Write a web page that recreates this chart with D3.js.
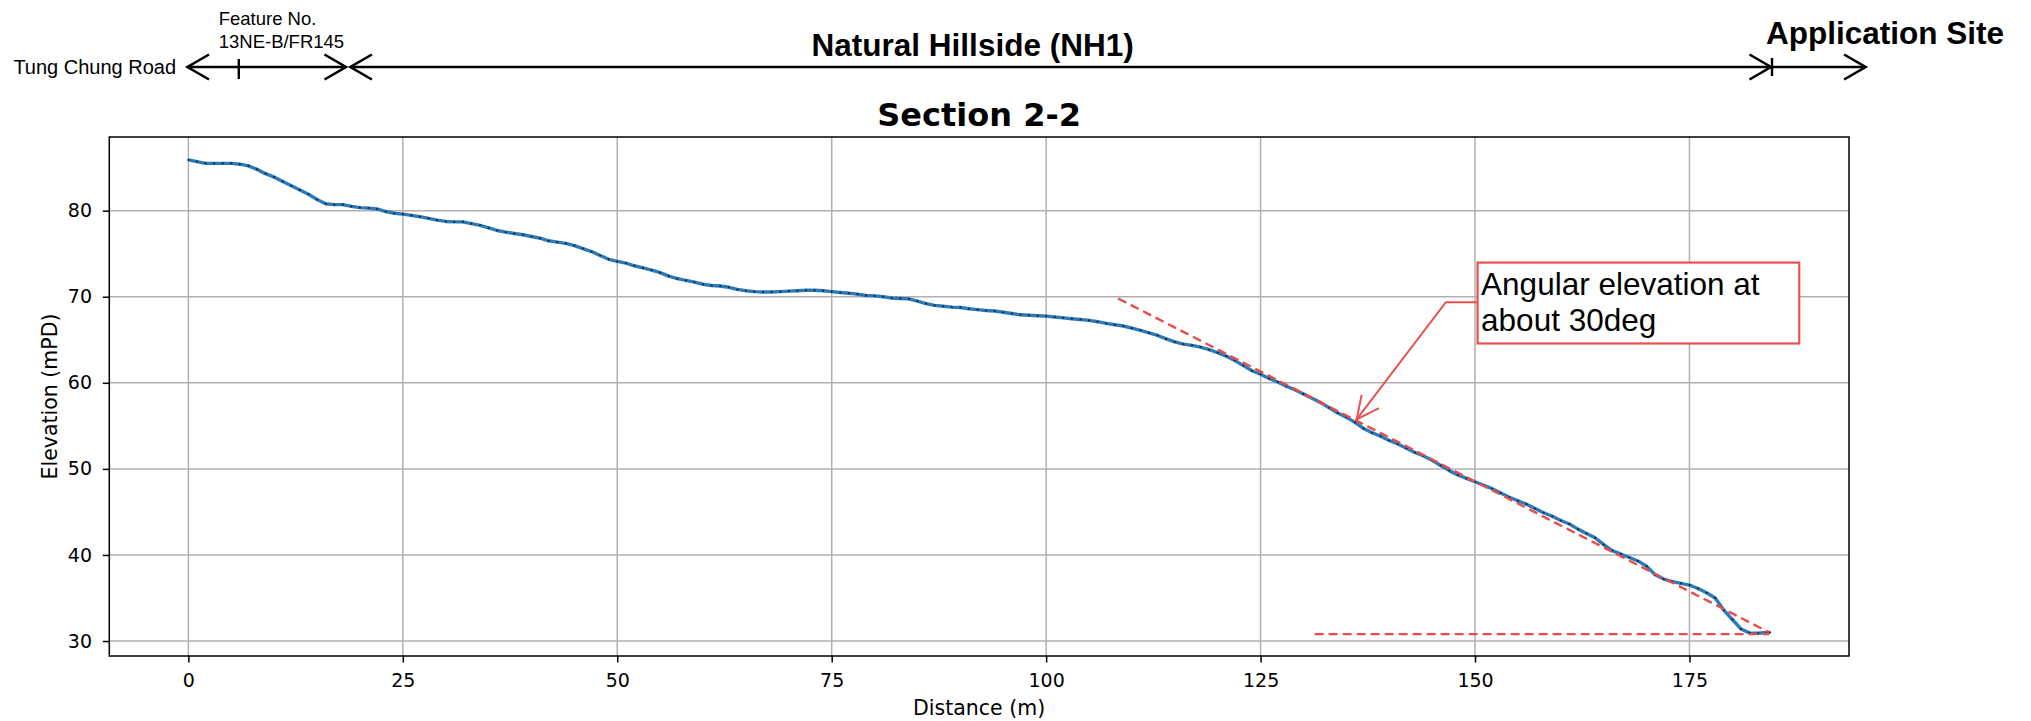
<!DOCTYPE html>
<html>
  <head>
    <title>Section 2-2</title>
    <script src="https://cdn.jsdelivr.net/npm/d3@7"></script>
    <style>
      body { margin: 0; background: #fff; }
      .chart text { font-family: 'DejaVu Sans', sans-serif; fill: #000; }
      .hdr text { font-family: 'Liberation Sans', Arial, sans-serif; fill: #000; }
    </style>
  </head>
  <body>
    <svg width="2031" height="721" id="mainsvg"></svg>
    <script>
      // profile data: distance (m) vs elevation (mPD)
      const distance = [
        0,1,2,3,4,5,6,7,8,9,10,11,12,13,14,15,16,17,18,19,
        20,21,22,23,24,25,26,27,28,29,30,31,32,33,34,35,36,37,38,39,
        40,41,42,43,44,45,46,47,48,49,50,51,52,53,54,55,56,57,58,59,
        60,61,62,63,64,65,66,67,68,69,70,71,72,73,74,75,76,77,78,79,
        80,81,82,83,84,85,86,87,88,89,90,91,92,93,94,95,96,97,98,99,
        100,101,102,103,104,105,106,107,108,109,110,111,112,113,114,115,116,117,118,119,
        120,121,122,123,124,125,126,127,128,129,130,131,132,133,134,135,136,137,138,139,
        140,141,142,143,144,145,146,147,148,149,150,151,152,153,154,155,156,157,158,159,
        160,161,162,163,164,165,166,167,168,169,170,171,172,173,174,175,176,177,178,179,
        180,181,182,183,184,184.4
      ];
      const elevation = [
        85.9,85.7,85.5,85.5,85.5,85.5,85.4,85.2,84.8,84.3,
        83.9,83.4,82.9,82.4,81.9,81.3,80.8,80.7,80.7,80.5,
        80.35,80.3,80.2,79.9,79.7,79.6,79.45,79.3,79.1,78.9,
        78.75,78.7,78.7,78.5,78.3,78.0,77.7,77.5,77.35,77.2,
        77.0,76.8,76.5,76.35,76.2,75.95,75.6,75.25,74.8,74.35,
        74.1,73.9,73.6,73.35,73.1,72.8,72.4,72.1,71.9,71.7,
        71.45,71.3,71.25,71.1,70.85,70.7,70.6,70.55,70.55,70.6,
        70.65,70.7,70.75,70.75,70.7,70.6,70.5,70.4,70.3,70.15,
        70.1,70.0,69.85,69.8,69.75,69.5,69.2,69.0,68.9,68.8,
        68.75,68.6,68.5,68.4,68.35,68.2,68.05,67.9,67.85,67.8,
        67.75,67.65,67.55,67.45,67.35,67.25,67.1,66.9,66.75,66.6,
        66.35,66.1,65.8,65.5,65.1,64.75,64.5,64.35,64.15,63.85,
        63.5,63.1,62.6,62.0,61.4,61.0,60.5,60.1,59.6,59.2,
        58.7,58.2,57.7,57.1,56.5,56.0,55.4,54.7,54.2,53.8,
        53.3,52.9,52.4,51.9,51.5,51.0,50.4,49.8,49.3,48.9,
        48.5,48.1,47.7,47.2,46.7,46.3,45.9,45.4,44.9,44.5,
        44.0,43.6,43.0,42.5,42.0,41.2,40.5,40.1,39.7,39.3,
        38.7,37.7,37.2,36.9,36.7,36.5,36.1,35.6,35.0,33.6,
        32.5,31.4,30.95,30.9,31.0,31.0
      ];
      const xTicks = [0, 25, 50, 75, 100, 125, 150, 175];
      const yTicks = [30, 40, 50, 60, 70, 80];

      // red dashed guide lines (slope ~30deg and base level)
      const slopeLine = [[108.4, 69.8], [184.3, 31.0]];
      const baseLine = [[131.3, 30.8], [184.3, 30.8]];
      // callout: box corners, elbow and arrow tip in data units
      const callout = {x0: 150.3, x1: 187.8, y0: 73.97, y1: 64.57, elbow: [146.6, 69.36], tip: [136.2, 55.75]};
      const calloutText = ['Angular elevation at', 'about 30deg'];

      const svg = d3.select('#mainsvg');
      const width = +svg.attr('width');
      const height = +svg.attr('height');
      const margin = {top: 137, right: 182, bottom: 65, left: 109.3};
      const innerWidth = width - margin.left - margin.right;
      const innerHeight = height - margin.top - margin.bottom;

      const xScale = d3.scaleLinear().domain([-9.22, 193.6]).range([0, innerWidth]);
      const yScale = d3.scaleLinear().domain([28.26, 88.56]).range([innerHeight, 0]);

      const g = svg.append('g').attr('class', 'chart')
        .attr('transform', `translate(${margin.left}, ${margin.top})`);

      // grid
      g.append('g').selectAll('line').data(xTicks).join('line')
        .attr('x1', d => xScale(d)).attr('x2', d => xScale(d))
        .attr('y1', 0).attr('y2', innerHeight)
        .attr('stroke', '#b0b0b0').attr('stroke-width', 1.5);
      g.append('g').selectAll('line').data(yTicks).join('line')
        .attr('y1', d => yScale(d)).attr('y2', d => yScale(d))
        .attr('x1', 0).attr('x2', innerWidth)
        .attr('stroke', '#b0b0b0').attr('stroke-width', 1.5);

      // axes
      const xAxis = d3.axisBottom(xScale).tickValues(xTicks).tickSize(6.5).tickSizeOuter(0);
      const xAxisGroup = g.append('g').call(xAxis)
        .attr('transform', `translate(0, ${innerHeight})`);
      xAxisGroup.selectAll('text').attr('y', 17.5).style('font-size', '19px');

      const yAxis = d3.axisLeft(yScale).tickValues(yTicks).tickSize(6.5).tickSizeOuter(0);
      const yAxisGroup = g.append('g').call(yAxis);
      yAxisGroup.selectAll('text').attr('x', -17.3).style('font-size', '19px');

      [xAxisGroup, yAxisGroup].forEach(ax => {
        ax.select('.domain').remove();
        ax.selectAll('.tick line').attr('stroke', '#000').attr('stroke-width', 1.5);
        ax.selectAll('text').attr('fill', '#1a1a1a').style('font-family', 'DejaVu Sans');
      });

      // profile line + point markers
      const pts = distance.map((d, i) => ({d: d, e: elevation[i]}));
      const line = d3.line().x(p => xScale(p.d)).y(p => yScale(p.e));
      g.append('path').datum(pts)
        .attr('fill', 'none').attr('stroke', '#2b7bba').attr('stroke-width', 3.4)
        .attr('stroke-linejoin', 'round')
        .attr('d', line);
      g.append('g').selectAll('circle').data(pts).join('circle')
        .attr('cx', p => xScale(p.d)).attr('cy', p => yScale(p.e))
        .attr('r', 1.05).attr('fill', '#111').attr('fill-opacity', 0.85);

      // dashed guides
      const guide = d3.line().x(p => xScale(p[0])).y(p => yScale(p[1]));
      [slopeLine, baseLine].forEach(l => {
        g.append('path').attr('d', guide(l))
          .attr('fill', 'none').attr('stroke', '#ea4b4b').attr('stroke-width', 2.4)
          .attr('stroke-dasharray', '9,5');
      });

      // callout
      const red = '#eb5050';
      g.append('rect')
        .attr('x', xScale(callout.x0)).attr('y', yScale(callout.y0))
        .attr('width', xScale(callout.x1) - xScale(callout.x0))
        .attr('height', yScale(callout.y1) - yScale(callout.y0))
        .attr('fill', '#fff').attr('stroke', red).attr('stroke-width', 2.2);
      const ex = xScale(callout.elbow[0]), ey = yScale(callout.elbow[1]);
      const tx = xScale(callout.tip[0]), ty = yScale(callout.tip[1]);
      g.append('path')
        .attr('d', `M${xScale(callout.x0)},${ey}L${ex},${ey}L${tx},${ty}`)
        .attr('fill', 'none').attr('stroke', red).attr('stroke-width', 2);
      const ang = Math.atan2(ey - ty, ex - tx);
      const hl = 25, ha = 0.45;
      g.append('path')
        .attr('d', `M${tx + hl * Math.cos(ang - ha)},${ty + hl * Math.sin(ang - ha)}L${tx},${ty}L${tx + hl * Math.cos(ang + ha)},${ty + hl * Math.sin(ang + ha)}`)
        .attr('fill', 'none').attr('stroke', red).attr('stroke-width', 2);
      g.append('g').selectAll('text').data(calloutText).join('text')
        .attr('x', xScale(callout.x0) + 3.5)
        .attr('y', (d, i) => yScale(callout.y0) + 32 + i * 36.7)
        .style('font-family', "'Liberation Sans', Arial, sans-serif")
        .style('font-size', '31.5px')
        .text(d => d);

      // spines
      g.append('rect').attr('width', innerWidth).attr('height', innerHeight)
        .attr('fill', 'none').attr('stroke', '#000').attr('stroke-width', 1.5);

      // title & labels
      g.append('text').attr('x', innerWidth / 2).attr('y', 126 - margin.top)
        .attr('text-anchor', 'middle').style('font-size', '32px').style('font-weight', 'bold')
        .text('Section 2-2');
      g.append('text').attr('x', innerWidth / 2).attr('y', 714.5 - margin.top)
        .attr('text-anchor', 'middle').style('font-size', '20.5px').attr('fill', '#1a1a1a')
        .text('Distance (m)');
      g.append('text')
        .attr('transform', `translate(${57 - margin.left}, ${innerHeight / 2}) rotate(-90)`)
        .attr('text-anchor', 'middle').style('font-size', '20.5px').attr('fill', '#1a1a1a')
        .text('Elevation (mPD)');

      // header strip with extent arrows
      const hdr = svg.append('g').attr('class', 'hdr');
      const hy = 67;
      const seg = (x1, x2, left, right) => {
        hdr.append('line').attr('x1', x1).attr('x2', x2).attr('y1', hy).attr('y2', hy)
          .attr('stroke', '#000').attr('stroke-width', 2.6);
        const head = (x, dir) => hdr.append('path')
          .attr('d', `M${x + dir * 21.5},${hy - 12.5}L${x},${hy}L${x + dir * 21.5},${hy + 12.5}`)
          .attr('fill', 'none').attr('stroke', '#000').attr('stroke-width', 2.6);
        if (left) head(x1, 1);
        if (right) head(x2, -1);
      };
      const tick = (x, y1, y2) => hdr.append('line').attr('x1', x).attr('x2', x)
        .attr('y1', y1).attr('y2', y2).attr('stroke', '#000').attr('stroke-width', 2.4);
      seg(187.5, 346, true, true);
      tick(238.8, 59, 79);
      seg(350.4, 1771, true, true);
      tick(1772, 58, 76);
      seg(1772, 1865.6, false, true);

      hdr.append('text').attr('x', 13.4).attr('y', 74).style('font-size', '20px').text('Tung Chung Road');
      hdr.append('text').attr('x', 218.7).attr('y', 25).style('font-size', '18.5px').text('Feature No.');
      hdr.append('text').attr('x', 218.7).attr('y', 48.3).style('font-size', '18.5px').text('13NE-B/FR145');
      hdr.append('text').attr('x', 811.6).attr('y', 55.5).style('font-size', '31.5px')
        .style('font-weight', 'bold').text('Natural Hillside (NH1)');
      hdr.append('text').attr('x', 1766).attr('y', 44).style('font-size', '31.5px')
        .style('font-weight', 'bold').text('Application Site');
    </script>
  </body>
</html>
